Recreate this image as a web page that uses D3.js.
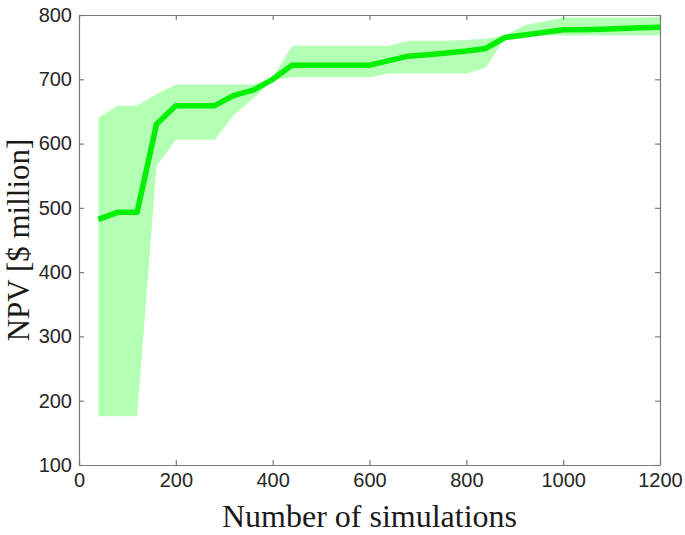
<!DOCTYPE html>
<html>
<head>
<meta charset="utf-8">
<script src="https://cdn.jsdelivr.net/npm/d3@7"></script>
<style>
html,body{margin:0;padding:0;background:#fff;}
svg{display:block;}
</style>
</head>
<body>
<svg id="chart" width="685" height="535"></svg>
<script>
// Data
const simulations = [40,80,120,160,200,240,280,320,360,400,440,480,520,560,600,640,680,720,760,800,840,880,920,960,1000,1040,1080,1120,1160,1200];
const npvMean  = [482,493,493,630,659,659,659,675,683,700,722,722,722,722,722,729,736,738,741,744,748,765,769,773,777,777,778,779,780,781];
const npvUpper = [640,659,659,677,692,692,692,692,692,702,752,752,752,752,752,752,760,760,760,761,763,768,784,790,796,796,796,796,796,797];
const npvLower = [176,176,176,565,606,606,606,645,670,699,703,703,703,703,703,709,709,709,709,709,718,765,767,768,768,768,768,768,768,768];
const xTicks = [0,200,400,600,800,1000,1200];
const yTicks = [100,200,300,400,500,600,700,800];

const svg = d3.select("#chart");
const m = {left:79, right:660, top:15, bottom:465};
const x = d3.scaleLinear().domain([0,1200]).range([m.left, m.right]);
const y = d3.scaleLinear().domain([100,800]).range([m.bottom, m.top]);

const pts = simulations.map((s,i)=>({s, mean:npvMean[i], lo:npvLower[i], hi:npvUpper[i]}));

// band
svg.append("path")
  .datum(pts)
  .attr("fill","#b3ffb3")
  .attr("stroke","none")
  .attr("d", d3.area().x(d=>x(d.s)).y0(d=>y(d.lo)).y1(d=>y(d.hi)));

// mean line
svg.append("path")
  .datum(pts)
  .attr("fill","none")
  .attr("stroke","#00f000")
  .attr("stroke-width",5.5)
  .attr("stroke-linejoin","round")
  .attr("d", d3.line().x(d=>x(d.s)).y(d=>y(d.mean)));

const axisColor = "#7a7a7a";
const tickFont = "'Liberation Sans', Arial, sans-serif";
const fmt = d3.format("d");

// axes
const gx = svg.append("g").attr("transform",`translate(0,${m.bottom})`)
  .call(d3.axisBottom(x).tickValues(xTicks).tickFormat(fmt).tickSizeInner(-5).tickSizeOuter(0).tickPadding(8));
const gxTop = svg.append("g").attr("transform",`translate(0,${m.top})`)
  .call(d3.axisTop(x).tickValues(xTicks).tickSizeInner(-5).tickSizeOuter(0).tickFormat(""));
const gy = svg.append("g").attr("transform",`translate(${m.left},0)`)
  .call(d3.axisLeft(y).tickValues(yTicks).tickFormat(fmt).tickSizeInner(-5).tickSizeOuter(0).tickPadding(7));
const gyR = svg.append("g").attr("transform",`translate(${m.right},0)`)
  .call(d3.axisRight(y).tickValues(yTicks).tickSizeInner(-5).tickSizeOuter(0).tickFormat(""));

[gx,gxTop,gy,gyR].forEach(g=>{
  g.selectAll(".domain").attr("stroke",axisColor).attr("stroke-width",1.2);
  g.selectAll(".tick line").attr("stroke",axisColor).attr("stroke-width",1.2);
  g.selectAll(".tick text").attr("fill","#262626").style("font-family",tickFont).style("font-size","20px");
});

// titles
svg.append("text")
  .attr("x",(m.left+m.right)/2).attr("y",527)
  .attr("text-anchor","middle")
  .style("font-family","'Liberation Serif', 'Times New Roman', serif")
  .style("font-size","32px").attr("fill","#1a1a1a")
  .text("Number of simulations");

svg.append("text")
  .attr("transform",`translate(29,${(m.top+m.bottom)/2}) rotate(-90)`)
  .attr("text-anchor","middle")
  .style("font-family","'Liberation Serif', 'Times New Roman', serif")
  .style("font-size","31px").attr("fill","#1a1a1a")
  .text("NPV [$ million]");
</script>
</body>
</html>
